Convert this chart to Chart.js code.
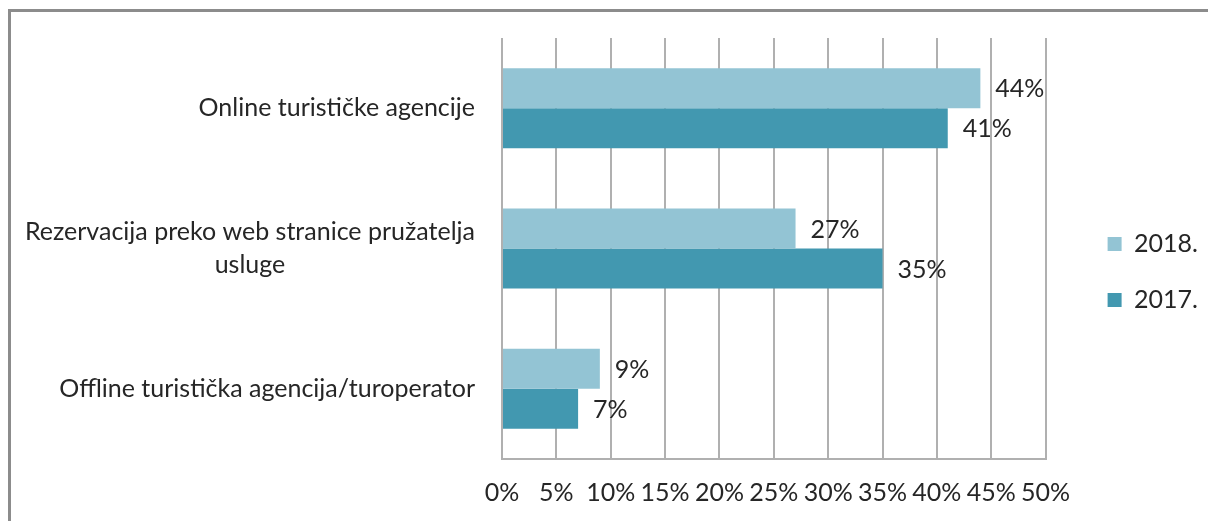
<!DOCTYPE html>
<html>
<head>
<meta charset="utf-8">
<script src="https://cdn.jsdelivr.net/npm/chart.js@4.4.1/dist/chart.umd.min.js"></script>
<style>
  html, body { margin: 0; padding: 0; background: #fff; overflow: hidden; }
  #wrap { position: absolute; left: 0; top: 0; width: 1208px; height: 521px; }
  #frame { position: absolute; left: 8px; top: 9px; width: 1400px; height: 700px;
           border-top: 3px solid #8c8c8c; border-left: 3px solid #8c8c8c; pointer-events: none; }
</style>
</head>
<body>
<div id="wrap"><canvas id="c" width="1208" height="521"></canvas></div>
<div id="frame"></div>
<script>
const categories = [
  ["Online turističke agencije"],
  ["Rezervacija preko web stranice pružatelja", "usluge"],
  ["Offline turistička agencija/turoperator"]
];
const seriesNames = ["2018.", "2017."];
const values2018 = [44, 27, 9];
const values2017 = [41, 35, 7];
const xTickMin = 0, xTickMax = 50, xTickStep = 5;

const FONT = "Lato";
const FS = 25;
const TEXT = "#262626";
const GRID = "#b0b0b0";

const valueLabels = {
  id: 'valueLabels',
  afterDatasetsDraw(chart) {
    const ctx = chart.ctx;
    ctx.save();
    ctx.font = FS + "px " + FONT;
    ctx.fillStyle = TEXT;
    ctx.textAlign = "left";
    ctx.textBaseline = "middle";
    chart.data.datasets.forEach((ds, di) => {
      chart.getDatasetMeta(di).data.forEach((bar, i) => {
        ctx.fillText(ds.data[i] + "%", bar.x + 15, bar.y + 1);
      });
    });
    ctx.restore();
  }
};

const catLabels = {
  id: 'catLabels',
  afterDraw(chart) {
    const ctx = chart.ctx, ys = chart.scales.y;
    const right = chart.chartArea.left - 27;
    const lh = 33;
    ctx.save();
    ctx.font = FS + "px " + FONT;
    ctx.fillStyle = TEXT;
    ctx.textAlign = "center";
    ctx.textBaseline = "middle";
    chart.data.labels.forEach((lines, i) => {
      const y = ys.getPixelForValue(i);
      const w = Math.max(...lines.map(l => ctx.measureText(l).width));
      const cx = right - w / 2;
      lines.forEach((l, k) => {
        ctx.fillText(l, cx, y + (k - (lines.length - 1) / 2) * lh);
      });
    });
    ctx.restore();
  }
};

new Chart(document.getElementById("c"), {
  type: "bar",
  data: {
    labels: categories,
    datasets: [
      { label: seriesNames[0], data: values2018, backgroundColor: "#93c4d4" },
      { label: seriesNames[1], data: values2017, backgroundColor: "#4298b0" }
    ]
  },
  options: {
    indexAxis: "y",
    responsive: false,
    animation: false,
    devicePixelRatio: 1,
    categoryPercentage: 0.57,
    barPercentage: 1.0,
    layout: { padding: { left: 0, top: 38, right: 0, bottom: 15 } },
    scales: {
      x: {
        min: xTickMin, max: xTickMax,
        ticks: { stepSize: xTickStep, callback: v => v + "%", color: TEXT,
                 font: { family: FONT, size: FS }, padding: 19, maxRotation: 0, autoSkip: false },
        grid: { color: GRID, lineWidth: 2, drawTicks: false },
        border: { display: true, color: GRID, width: 2 },
        afterFit: s => { s.height = 47; }
      },
      y: {
        ticks: { display: false },
        grid: { display: false },
        border: { display: false },
        afterFit: s => { s.width = 502; }
      },
      gap: {
        type: "category", position: "right", axis: "y",
        ticks: { display: false }, grid: { display: false }, border: { display: false },
        afterFit: s => { s.width = 31; }
      }
    },
    plugins: {
      legend: {
        position: "right",
        labels: { boxWidth: 14, boxHeight: 14, padding: 31, color: TEXT,
                  font: { family: FONT, size: FS } }
      },
      tooltip: { enabled: false }
    }
  },
  plugins: [valueLabels, catLabels]
});
</script>
</body>
</html>
